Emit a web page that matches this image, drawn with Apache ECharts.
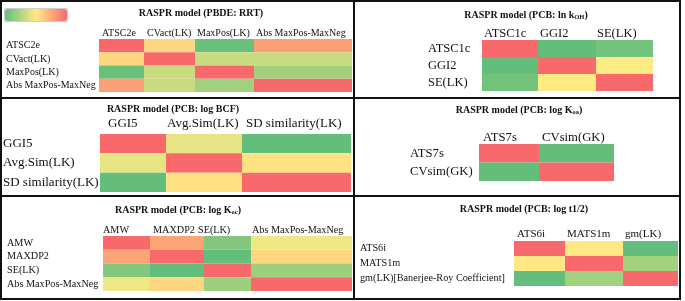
<!DOCTYPE html>
<html>
<head>
<meta charset="utf-8">
<script src="https://cdn.jsdelivr.net/npm/echarts@6/dist/echarts.min.js"></script>
<style>
html, body { margin: 0; padding: 0; background: #fff; }
#chart { width: 685px; height: 301px; }
</style>
</head>
<body>
<div id="chart"></div>
<script>
// descriptor inter-correlation maps, scaled 0 (green) .. 1 (red)
const rrtLabels = ['ATSC2e', 'CVact(LK)', 'MaxPos(LK)', 'Abs MaxPos-MaxNeg'];
const rrtValues = [
  [1, 0.58, 0.02, 0.79],
  [0.58, 1, 0.33, 0.32],
  [0.02, 0.33, 1, 0.2],
  [0.79, 0.32, 0.2, 1]
];

const kohLabels = ['ATSC1c', 'GGI2', 'SE(LK)'];
const kohValues = [
  [1, 0, 0.05],
  [0, 1, 0.5],
  [0.05, 0.5, 1]
];

const bcfLabels = ['GGI5', 'Avg.Sim(LK)', 'SD similarity(LK)'];
const bcfValues = [
  [1, 0.42, 0],
  [0.42, 1, 0.53],
  [0, 0.53, 1]
];

const koaLabels = ['ATS7s', 'CVsim(GK)'];
const koaValues = [
  [1, 0],
  [0, 1]
];

const kocLabels = ['AMW', 'MAXDP2', 'SE(LK)', 'Abs MaxPos-MaxNeg'];
const kocValues = [
  [1, 0.77, 0.1, 0.45],
  [0.77, 1, 0.0, 0.58],
  [0.1, 0.0, 1, 0.19],
  [0.45, 0.58, 0.19, 1]
];

const t12Rows = ['ATS6i', 'MATS1m', 'gm(LK)[Banerjee-Roy Coefficient]'];
const t12Cols = ['ATS6i', 'MATS1m', 'gm(LK)'];
const t12Values = [
  [1, 0.51, 0],
  [0.51, 1, 0.2],
  [0, 0.2, 1]
];

const scaleColors = ['#63BE7B', '#FFEB84', '#F8696B'];
const serif = 'Liberation Serif';

// layout of the six boxes (pixels)
const panels = [
  { title: 'RASPR model (PBDE: RRT)', tx: 201, ty: 14, rows: rrtLabels, cols: rrtLabels, values: rrtValues,
    edges: [99, 144, 195, 254, 352], top: 39, bottom: 92, labelX: 6, headX: [102, 147, 197, 256], headY: 33, font: 10 },
  { title: 'RASPR model (PCB: ln k{s|OH})', tx: 526, ty: 15, rows: kohLabels, cols: kohLabels, values: kohValues,
    edges: [482, 538, 596, 653], top: 40, bottom: 91, labelX: 428, headX: [484, 540, 597], headY: 33, font: 12.5 },
  { title: 'RASPR model (PCB: log BCF)', tx: 173, ty: 110, rows: bcfLabels, cols: bcfLabels, values: bcfValues,
    edges: [100, 166, 242, 351], top: 134, bottom: 192, labelX: 3, headX: [108, 167, 246], headY: 123, font: 13 },
  { title: 'RASPR model (PCB: log K{s|oa})', tx: 519, ty: 110, rows: koaLabels, cols: koaLabels, values: koaValues,
    edges: [479, 539, 614], top: 144, bottom: 181, labelX: 410, headX: [483, 542], headY: 137, font: 12.7 },
  { title: 'RASPR model (PCB: log K{s|oc})', tx: 178, ty: 210, rows: kocLabels, cols: kocLabels, values: kocValues,
    edges: [103, 150, 204, 251, 352], top: 236, bottom: 291, labelX: 7, headX: [103, 153, 198, 252], headY: 230, font: 10.2 },
  { title: 'RASPR model (PCB: log t1/2)', tx: 524, ty: 210, rows: t12Rows, cols: t12Cols, values: t12Values,
    edges: [514, 565, 623, 678], top: 241, bottom: 286, labelX: 360, headX: [517, 567, 625], headY: 234, font: 11, rowFont: 10.2 }
];

const chart = echarts.init(document.getElementById('chart'));

const titles = [], grids = [], xAxes = [], yAxes = [], series = [];

panels.forEach((p, i) => {
  const x0 = p.edges[0];
  const width = p.edges[p.edges.length - 1] - x0;
  const starts = p.edges.slice(0, -1).map(e => e - x0);
  const widths = p.edges.slice(1).map((e, k) => e - p.edges[k]);
  const heads = p.headX.map(h => h - x0);

  titles.push({
    text: p.title,
    left: p.tx,
    top: p.ty - 6,
    textAlign: 'center',
    padding: 0,
    textStyle: {
      fontFamily: serif, fontWeight: 'bold', fontSize: 10, color: '#111',
      rich: { s: { fontFamily: serif, fontWeight: 'bold', fontSize: 6.5, color: '#111', verticalAlign: 'bottom', padding: [5, 0, 0, 0] } }
    }
  });

  grids.push({ left: x0, top: p.top, width: width, height: p.bottom - p.top });

  xAxes.push({
    gridIndex: i, type: 'value', min: 0, max: width, position: 'top',
    axisLine: { show: false }, axisTick: { show: false }, splitLine: { show: false },
    axisLabel: {
      customValues: heads,
      formatter: v => {
        let best = 0;
        heads.forEach((h, k) => { if (Math.abs(h - v) < Math.abs(heads[best] - v)) best = k; });
        return p.cols[best];
      },
      align: 'left',
      margin: Math.max(0, p.top - p.headY - p.font * 0.55),
      fontFamily: serif, fontSize: p.font, color: '#111'
    }
  });

  yAxes.push({
    gridIndex: i, type: 'category', data: p.rows, inverse: true,
    axisLine: { show: false }, axisTick: { show: false }, splitLine: { show: false },
    axisLabel: { align: 'left', margin: x0 - p.labelX, fontFamily: serif, fontSize: p.rowFont || p.font, color: '#111' }
  });

  const cells = [];
  p.values.forEach((row, r) => row.forEach((v, c) => cells.push([c, r, v])));

  series.push({
    type: 'custom',
    xAxisIndex: i, yAxisIndex: i,
    encode: { x: 0, y: 1 },
    data: cells,
    silent: true,
    renderItem: (params, api) => {
      const c = api.value(0), r = api.value(1);
      const a = api.coord([starts[c], r]);
      const b = api.coord([starts[c] + widths[c], r]);
      const h = api.size([0, 1])[1];
      return {
        type: 'rect',
        shape: { x: a[0], y: a[1] - h / 2, width: b[0] - a[0], height: h },
        style: { fill: api.visual('color') }
      };
    }
  });
});

const option = {
  backgroundColor: '#fff',
  animation: false,
  title: titles,
  grid: grids,
  xAxis: xAxes,
  yAxis: yAxes,
  visualMap: {
    type: 'continuous', min: 0, max: 1, dimension: 2,
    seriesIndex: series.map((s, i) => i),
    inRange: { color: scaleColors },
    orient: 'horizontal', left: 5, top: 9, padding: 0,
    itemWidth: 12, itemHeight: 62,
    calculable: false, hoverLink: false, text: null
  },
  graphic: [
    { type: 'rect', shape: { x: 4.5, y: 8.5, width: 63, height: 13 }, style: { fill: 'none', stroke: '#cfcfcf', lineWidth: 1 }, z: 100 },
    { type: 'rect', shape: { x: 1, y: 1, width: 679, height: 298 }, style: { fill: 'none', stroke: '#111', lineWidth: 2 }, z: 100 },
    { type: 'line', shape: { x1: 354, y1: 0, x2: 354, y2: 300 }, style: { stroke: '#111', lineWidth: 2 }, z: 100 },
    { type: 'line', shape: { x1: 0, y1: 98, x2: 681, y2: 98 }, style: { stroke: '#111', lineWidth: 2 }, z: 100 },
    { type: 'line', shape: { x1: 0, y1: 196, x2: 681, y2: 196 }, style: { stroke: '#111', lineWidth: 2 }, z: 100 }
  ],
  series: series
};

chart.setOption(option);
</script>
</body>
</html>
